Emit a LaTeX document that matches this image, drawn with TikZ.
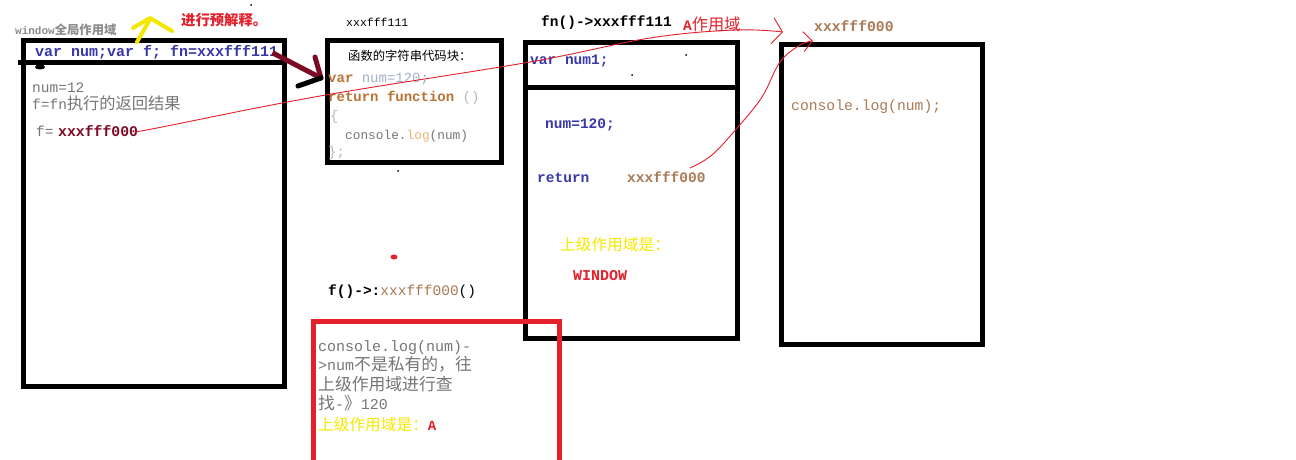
\documentclass[tikz,border=0pt]{standalone}
\usepackage{fontspec}
\setmainfont{Liberation Mono}
\newfontfamily\cjk[Scale=1.12]{Noto Sans CJK SC}
\usepackage{tikz}
\usetikzlibrary{calc,arrows.meta}
\definecolor{CodeBlue}{HTML}{3838A8}
\definecolor{TextGray}{HTML}{767676}
\definecolor{LabelGray}{HTML}{8C8C8C}
\definecolor{DarkRed}{HTML}{7D0A24}
\definecolor{PenRed}{HTML}{E3202B}
\definecolor{PenYellow}{HTML}{F5E800}
\definecolor{AddrBrown}{HTML}{A97A55}
\definecolor{KeyBrown}{HTML}{B87333}
\definecolor{LightSlate}{HTML}{A3AEC8}
\definecolor{LightGray}{HTML}{B8B8B8}
\definecolor{LogOrange}{HTML}{EBB477}
\newcommand{\zh}[1]{{\cjk #1}}
\newcommand{\fsz}[1]{\fontsize{#1}{#1}\selectfont}

\begin{document}
\begin{tikzpicture}[x=1pt,y=-1pt,
  scopebox/.style={draw=black,line width=5pt,inner sep=0pt,outer sep=0pt,anchor=north west},
  txt/.style={inner sep=0pt,anchor=base west},
  penline/.style={PenRed,line width=0.9pt}]
  \useasboundingbox (0,0) rectangle (1296,460);
  \fill[white] (0,0) rectangle (1296,460);
  \clip (0,0) rectangle (1296,460);

  \node[scopebox,minimum width=261pt,minimum height=345.5pt] (winbox) at (23,40.5) {};
  \draw[line width=5pt] (18,62.5) -- (286,62.5);
  \fill (40,67) ellipse (5 and 2.5);
  \node[txt,font=\fsz{11}\bfseries,text=LabelGray] (winlbl) at (15,35) {window\zh{全局作用域}};
  \draw[PenYellow,line width=4pt,line cap=round,line join=round] (137,42) -- (149,21);
  \draw[PenYellow,line width=4pt,line cap=round,line join=round] (133,28) -- (150,18) -- (172,31);
  \node[txt,font=\fsz{12.8}\bfseries,text=PenRed] (prelbl) at (181,26) {\zh{进行预解释。}};
  \node[txt,font=\fsz{15}\bfseries,text=CodeBlue] (wincode) at (35,57) {var num;var f; fn=xxxfff111};
  \node[txt,font=\fsz{14.5},text=TextGray] (numline) at (32,92.5) {num=12};
  \node[txt,font=\fsz{14.5},text=TextGray] (fline) at (32,110) {f=fn\zh{执行的返回结果}};
  \node[txt,font=\fsz{14.5},text=TextGray] (fassign) at (36,136.5) {f=};
  \node[txt,font=\fsz{14.8}\bfseries,text=DarkRed] (fval) at (58,136.5) {xxxfff000};

  \node[scopebox,minimum width=174.5pt,minimum height=121.5pt] (fnbox) at (327,40.5) {};
  \node[txt,font=\fsz{11.5}] (fnaddr) at (346,27) {xxxfff111};
  \node[txt,font=\fsz{11}] (fnhead) at (348,60.5) {\zh{函数的字符串代码块：}};
  \node[txt,font=\fsz{14}] (fnvar) at (328,82) {\textcolor{KeyBrown}{\bfseries var} \textcolor{LightSlate}{num=120;}};
  \node[txt,font=\fsz{14}] (fnret) at (328,101) {\textcolor{KeyBrown}{\bfseries return function} \textcolor{LightGray}{()}};
  \node[txt,font=\fsz{14},text=LightGray] (fnopen) at (330,120) {\{};
  \node[txt,font=\fsz{12.8}] (fnlog) at (345,139) {\textcolor{TextGray}{console.}\textcolor{LogOrange}{log}\textcolor{TextGray}{(num)}};
  \node[txt,font=\fsz{14},text=LightGray] (fnclose) at (328,156) {\};};

  \coordinate (fnhit) at (321,78);
  \draw[DarkRed,line width=5pt] ($(wincode.east)+(-6,0)$) -- (fnhit);
  \draw[DarkRed,line width=5pt,line cap=round] (fnhit) -- ++(-6,-21);
  \draw[black,line width=5pt,line cap=round] (fnhit) -- ++(-23,8);

  \node[scopebox,minimum width=211.5pt,minimum height=295.5pt] (abox) at (525.5,42.5) {};
  \draw[line width=5pt] (523,87.5) -- (740,87.5);
  \node[txt,font=\fsz{14.5}\bfseries] (acall) at (541,27) {fn()->xxxfff111};
  \node[txt,font=\fsz{14.5},text=PenRed] (alabel) at (683,31) {\textbf{A}\zh{作用域}};
  \node[txt,font=\fsz{14.5}\bfseries,text=CodeBlue] (avar) at (530,64) {var num1;};
  \node[txt,font=\fsz{14.5}\bfseries,text=CodeBlue] (aset) at (545,128.5) {num=120;};
  \node[txt,font=\fsz{14.5}\bfseries,text=CodeBlue] (aret) at (537,182.5) {return};
  \node[txt,font=\fsz{14.5}\bfseries,text=AddrBrown] (aretval) at (627,182.5) {xxxfff000};
  \node[txt,font=\fsz{14},text=PenYellow] (aparent) at (560,250) {\zh{上级作用域是：}};
  \node[txt,font=\fsz{15}\bfseries,text=PenRed] (awin) at (573,280) {WINDOW};

  \node[scopebox,minimum width=200.5pt,minimum height=299.5pt] (resbox) at (781.5,44.5) {};
  \node[txt,font=\fsz{14.7}\bfseries,text=AddrBrown] (resaddr) at (814,31.5) {xxxfff000};
  \node[txt,font=\fsz{14.7},text=AddrBrown] (reslog) at (791,110.5) {console.log(num);};

  \node[txt,font=\fsz{14.5}] (fcall) at (328,295) {\textbf{f()->:}\textcolor{AddrBrown}{xxxfff000}()};
  \fill[PenRed] (394,257) ellipse (3.5 and 2.5);
  \node[scopebox,draw=PenRed,minimum width=246.5pt,minimum height=160pt] (lookbox) at (313,321.5) {};
  \node[txt,font=\fsz{15},text=TextGray] (look1) at (318,351) {console.log(num)-};
  \node[txt,font=\fsz{15},text=TextGray] (look2) at (318,370) {>num\zh{不是私有的，往}};
  \node[txt,font=\fsz{15},text=TextGray] (look3) at (318,390) {\zh{上级作用域进行查}};
  \node[txt,font=\fsz{15},text=TextGray] (look4) at (318,409) {\zh{找}-\zh{》}120};
  \node[txt,font=\fsz{14}] (look5) at (318,430) {\textcolor{PenYellow}{\zh{上级作用域是：}}\textcolor{PenRed}{\bfseries A}};

  \fill (251,5) circle (1);
  \fill (686,55) circle (1);
  \fill (632,75) circle (1);
  \fill (398,171) circle (1);

  \coordinate (aend) at (783,32);
  \coordinate (rethook) at (690,168);
  \coordinate (resin) at (813,41);
  \draw[penline,-{Straight Barb[length=10pt,width=26pt]}] plot[smooth,tension=0.6]
    coordinates {(fval.east) (157,128) (320,96) (530,62) (650,38) (735,30) (aend)};
  \draw[penline,-{Straight Barb[length=9pt,width=20pt]}] plot[smooth,tension=0.6]
    coordinates {(rethook) (712,155) (738,127) (762,97) (780,62) (800,45) (resin)};
\end{tikzpicture}
\end{document}
